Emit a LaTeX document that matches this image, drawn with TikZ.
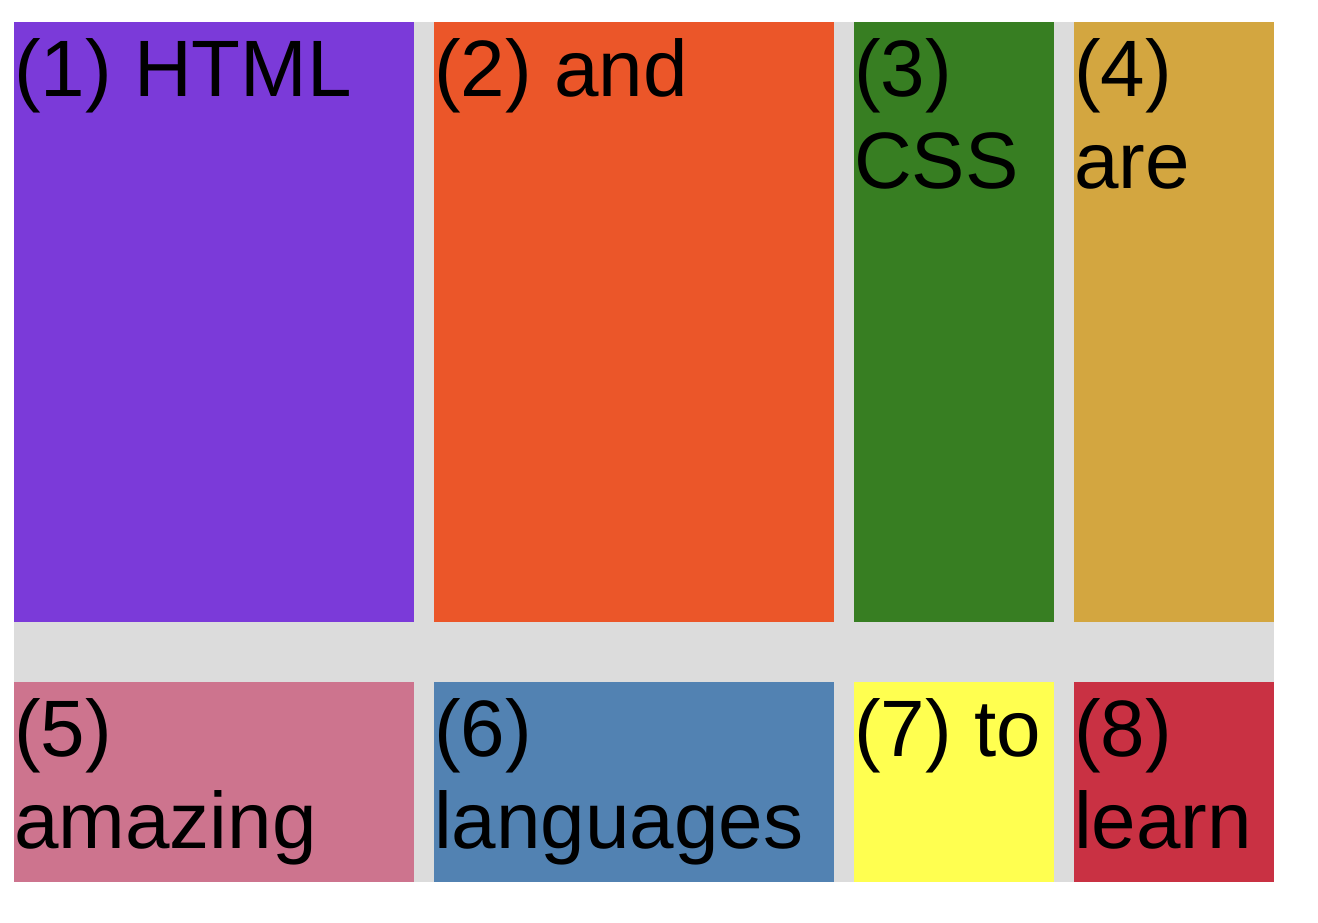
\documentclass[tikz,border=0pt]{standalone}
\usepackage{fontspec}
\setmainfont{Liberation Sans}
\usetikzlibrary{positioning, backgrounds}

\definecolor{gridgrey}{HTML}{DCDCDC}
\definecolor{cpurple}{HTML}{7B3AD9}
\definecolor{corange}{HTML}{EB5629}
\definecolor{cgreen}{HTML}{377E22}
\definecolor{cgold}{HTML}{D3A640}
\definecolor{cpink}{HTML}{CD748E}
\definecolor{cblue}{HTML}{5282B2}
\definecolor{cyellow}{HTML}{FFFF50}
\definecolor{cred}{HTML}{C93143}

\begin{document}
\begin{tikzpicture}[
  x=1pt, y=-1pt,
  cell/.style={anchor=north west, inner sep=0pt, outer sep=0pt},
  wide/.style={minimum width=400pt},
  narrow/.style={minimum width=200pt},
  tall/.style={minimum height=600pt},
  short/.style={minimum height=200pt},
  word/.style={anchor=base west, inner sep=0pt, align=left,
    font=\fontsize{80}{92}\selectfont}
]
\useasboundingbox (0,0) rectangle (1318,922);
% first row: tall cells, 20pt column gap
\node[cell, wide, tall, fill=cpurple] (c1) at (14,22) {};
\node[cell, wide, tall, fill=corange, right=20pt of c1] (c2) {};
\node[cell, narrow, tall, fill=cgreen, right=20pt of c2] (c3) {};
\node[cell, narrow, tall, fill=cgold, right=20pt of c3] (c4) {};
% second row: short cells, 60pt row gap
\node[cell, wide, short, fill=cpink, below=60pt of c1.south west, anchor=north west] (c5) {};
\node[cell, wide, short, fill=cblue, right=20pt of c5] (c6) {};
\node[cell, narrow, short, fill=cyellow, right=20pt of c6] (c7) {};
\node[cell, narrow, short, fill=cred, right=20pt of c7] (c8) {};
% texts sit at the top left corner of each cell; the base anchor of a
% two-line node is its last line, hence 74pt + 92pt for those
\node[word] (t1) at ([yshift=-74pt]c1.north west) {(1) HTML};
\node[word] (t2) at ([yshift=-74pt]c2.north west) {(2) and};
\node[word] (t3) at ([yshift=-166pt]c3.north west) {(3)\\CSS};
\node[word] (t4) at ([yshift=-166pt]c4.north west) {(4)\\are};
\node[word] (t5) at ([yshift=-166pt]c5.north west) {(5)\\amazing};
\node[word] (t6) at ([yshift=-166pt]c6.north west) {(6)\\languages};
\node[word] (t7) at ([yshift=-74pt]c7.north west) {(7) to};
\node[word] (t8) at ([yshift=-166pt]c8.north west) {(8)\\learn};
\begin{scope}[on background layer]
  \fill[white] (0,0) rectangle (1318,922);
  \fill[gridgrey] (c1.north west) rectangle (c8.south east);
\end{scope}
\end{tikzpicture}
\end{document}
